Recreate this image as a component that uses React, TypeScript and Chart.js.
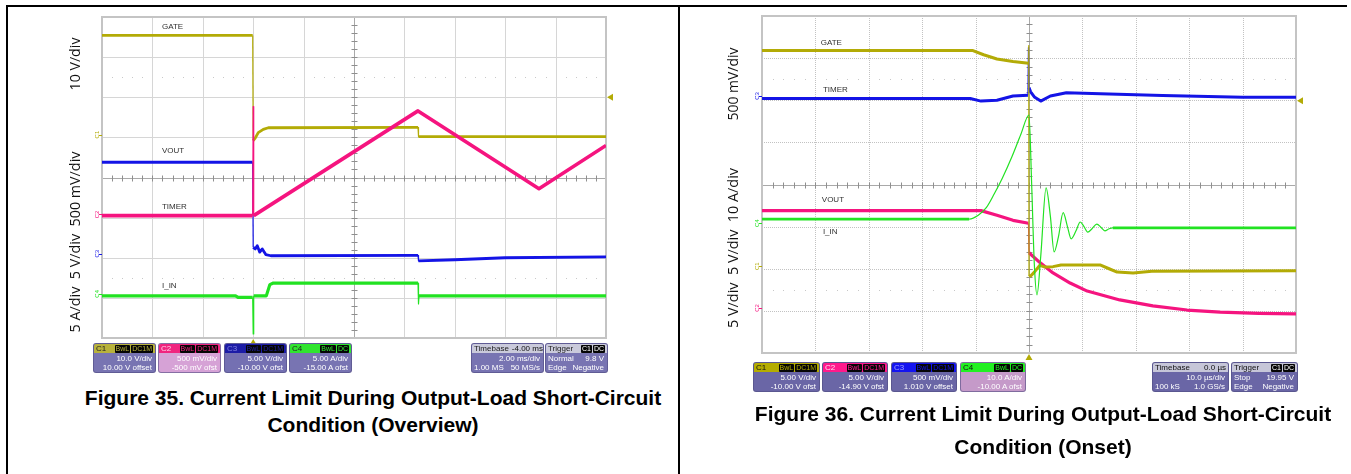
import React, { useEffect, useRef } from "react";
import { Chart, registerables } from "chart.js";

Chart.register(...registerables);

// ---------- colours ----------
const OLIVE = "#b3ab06";
const PINK = "#f5147f";
const BLUE = "#1414e6";
const GREEN = "#22e222";

// ---------- Figure 35 (overview): x and y in scope divisions (10 x 8) ----------
const F35_GATE_X = [0, 2.99, 3.0, 3.04, 3.1, 3.2, 3.3, 6.27, 6.28, 10];
const F35_GATE_Y = [7.54, 7.54, 4.92, 4.98, 5.12, 5.2, 5.24, 5.25, 5.02, 5.02];

const F35_VOUT_X = [0, 2.99, 3.0, 3.04, 3.08, 3.13, 3.18, 3.25, 3.35, 6.27, 6.28, 7.0, 8.0, 10];
const F35_VOUT_Y = [4.38, 4.38, 2.26, 2.22, 2.3, 2.14, 2.22, 2.08, 2.05, 2.06, 1.92, 1.95, 2.0, 2.02];

const F35_TIMER_X = [0, 2.99, 3.0, 3.01, 6.27, 8.67, 10];
const F35_TIMER_Y = [3.05, 3.05, 5.77, 3.05, 5.66, 3.72, 4.8];

const F35_IIN_X = [0, 2.65, 2.7, 2.99, 3.0, 3.01, 3.26, 3.33, 3.4, 6.27, 6.28, 6.29, 10];
const F35_IIN_Y = [1.05, 1.05, 1.01, 1.01, 0.1, 1.05, 1.05, 1.33, 1.37, 1.37, 0.85, 1.05, 1.05];

// ---------- Figure 36 (onset) ----------
const F36_GATE_X = [0, 3.95, 4.15, 4.4, 4.7, 4.99, 4.995, 5.0, 5.04, 5.1, 5.2, 5.3, 5.45, 5.6, 6.33, 6.5, 6.65, 6.95, 7.3, 10];
const F36_GATE_Y = [7.18, 7.18, 7.08, 6.98, 6.92, 6.88, 7.3, 1.82, 1.84, 1.92, 2.08, 2.04, 2.05, 2.09, 2.09, 2.0, 1.92, 1.9, 1.94, 1.95];

const F36_TIMER_X = [0, 3.9, 4.1, 4.4, 4.7, 4.98, 4.99, 5.0, 5.03, 5.1, 5.22, 5.4, 5.7, 6.5, 7.5, 9.0, 10];
const F36_TIMER_Y = [6.04, 6.04, 5.98, 6.0, 6.1, 6.12, 7.25, 6.3, 6.2, 6.08, 5.98, 6.1, 6.18, 6.15, 6.11, 6.07, 6.07];

const F36_VOUT_X = [0, 4.1, 4.4, 4.7, 4.99, 5.0, 5.21, 5.45, 5.77, 6.09, 6.7, 7.32, 7.96, 8.58, 9.3, 10];
const F36_VOUT_Y = [3.38, 3.38, 3.27, 3.15, 3.08, 2.38, 2.14, 1.9, 1.66, 1.47, 1.26, 1.12, 1.02, 0.97, 0.94, 0.93];

const F36_IIN_X = [0, 3.88, 4.05, 4.2, 4.35, 4.5, 4.68, 4.85, 5.0, 5.05, 5.1, 5.15, 5.22, 5.32, 5.4, 5.47, 5.55, 5.64, 5.72, 5.79, 5.88, 5.96, 6.03, 6.1, 6.18, 6.27, 6.35, 6.42, 6.5, 6.57, 10];
const F36_IIN_Y = [3.18, 3.18, 3.27, 3.45, 3.78, 4.15, 4.66, 5.2, 5.65, 4.0, 2.1, 1.38, 2.3, 3.92, 3.25, 2.4, 2.75, 3.33, 3.0, 2.71, 2.9, 3.11, 3.0, 2.87, 2.95, 3.06, 2.98, 2.9, 2.95, 2.97, 2.97];

// ---------- scope read-out boxes (text) ----------
const F35_CH_SCALE = ["10.0 V/div", "500 mV/div", "5.00 V/div", "5.00 A/div"];
const F35_CH_OFFSET = ["10.00 V offset", "-500 mV ofst", "-10.00 V ofst", "-15.00 A ofst"];
const F35_TIMEBASE = ["-4.00 ms", "2.00 ms/div", "1.00 MS", "50 MS/s"];
const F35_TRIGGER = ["Normal", "9.8 V", "Edge", "Negative"];

const F36_CH_SCALE = ["5.00 V/div", "5.00 V/div", "500 mV/div", "10.0 A/div"];
const F36_CH_OFFSET = ["-10.00 V ofst", "-14.90 V ofst", "1.010 V offset", "-10.00 A ofst"];
const F36_TIMEBASE = ["0.0 µs", "10.0 µs/div", "100 kS", "1.0 GS/s"];
const F36_TRIGGER = ["Stop", "19.95 V", "Edge", "Negative"];

type Trace = { label: string; xs: number[]; ys: number[]; color: string; width: number; thin?: [number, number]; smooth?: boolean };
type Note = { text: string; x: number; y: number };
type Marker = { text: string; y: number; color: string };
type Unit = { text: string; cx: number; cy: number; len: number };
type Geo = { left: number; top: number; w: number; h: number; pl: number; pr: number; pt: number; pb: number };

function makeScopePlugin(geo: Geo, notes: Note[], markers: Marker[], trigX: number, levelY: number, units: Unit[], dotted: boolean) {
  return {
    id: "scope",
    beforeDatasetsDraw(chart: any) {
      const { ctx, chartArea: a, scales } = chart;
      const x = scales.x;
      const y = scales.y;
      ctx.save();
      // regular grid
      ctx.strokeStyle = dotted ? "#c2c2c2" : "#d6d6d6";
      ctx.lineWidth = 1;
      ctx.setLineDash(dotted ? [1, 1] : []);
      for (let i = 1; i < 10; i++) {
        if (i === 5) continue;
        const px = Math.round(x.getPixelForValue(i)) + 0.5;
        ctx.beginPath();
        ctx.moveTo(px, a.top);
        ctx.lineTo(px, a.bottom);
        ctx.stroke();
      }
      for (let j = 1; j < 8; j++) {
        if (j === 4) continue;
        const py = Math.round(y.getPixelForValue(j)) + 0.5;
        ctx.beginPath();
        ctx.moveTo(a.left, py);
        ctx.lineTo(a.right, py);
        ctx.stroke();
      }
      ctx.setLineDash([]);
      // faint dotted half-division rows
      ctx.fillStyle = "#c8c8c8";
      for (const hy of [1.5, 6.5]) {
        const py = Math.round(y.getPixelForValue(hy));
        for (let k = 1; k < 50; k++) {
          if (k % 5 === 0) continue;
          ctx.fillRect(Math.round(x.getPixelForValue(k * 0.2)), py, 1, 1);
        }
      }
      // centre cross with minor ticks
      ctx.strokeStyle = "#a9a9a9";
      const cx = Math.round(x.getPixelForValue(5)) + 0.5;
      const cy = Math.round(y.getPixelForValue(4)) + 0.5;
      ctx.beginPath();
      ctx.moveTo(cx, a.top);
      ctx.lineTo(cx, a.bottom);
      ctx.moveTo(a.left, cy);
      ctx.lineTo(a.right, cy);
      ctx.stroke();
      ctx.strokeStyle = "#8f8f8f";
      ctx.beginPath();
      for (let k = 1; k < 50; k++) {
        const px = Math.round(x.getPixelForValue(k * 0.2)) + 0.5;
        ctx.moveTo(px, cy - 3);
        ctx.lineTo(px, cy + 3);
      }
      for (let k = 1; k < 40; k++) {
        const py = Math.round(y.getPixelForValue(k * 0.2)) + 0.5;
        ctx.moveTo(cx - 3, py);
        ctx.lineTo(cx + 3, py);
      }
      ctx.stroke();
      // border
      ctx.strokeStyle = "#c4c4c4";
      ctx.lineWidth = 2;
      ctx.strokeRect(a.left, a.top, a.right - a.left, a.bottom - a.top);
      ctx.restore();
    },
    afterDatasetsDraw(chart: any) {
      const { ctx, chartArea: a, scales } = chart;
      const x = scales.x;
      const y = scales.y;
      ctx.save();
      // trace names
      ctx.fillStyle = "#303030";
      ctx.font = '8px "Liberation Sans", Arial, sans-serif';
      ctx.textBaseline = "middle";
      ctx.textAlign = "left";
      for (const n of notes) ctx.fillText(n.text, x.getPixelForValue(n.x), y.getPixelForValue(n.y));
      // channel markers at left edge
      ctx.font = '6px "Liberation Sans", Arial, sans-serif';
      ctx.textAlign = "center";
      for (const m of markers) {
        const py = y.getPixelForValue(m.y);
        ctx.save();
        ctx.translate(a.left - 5, py);
        ctx.rotate(-Math.PI / 2);
        ctx.fillStyle = m.color;
        ctx.fillText(m.text, 0, 0);
        ctx.restore();
        ctx.fillStyle = m.color;
        ctx.fillRect(a.left - 3, Math.round(py), 3, 1);
      }
      // trigger position and level markers
      ctx.fillStyle = OLIVE;
      const tx = x.getPixelForValue(trigX);
      ctx.beginPath();
      ctx.moveTo(tx, a.bottom + 1);
      ctx.lineTo(tx - 3.5, a.bottom + 7);
      ctx.lineTo(tx + 3.5, a.bottom + 7);
      ctx.closePath();
      ctx.fill();
      const ly = y.getPixelForValue(levelY);
      ctx.beginPath();
      ctx.moveTo(a.right + 1, ly);
      ctx.lineTo(a.right + 7, ly - 3.5);
      ctx.lineTo(a.right + 7, ly + 3.5);
      ctx.closePath();
      ctx.fill();
      // vertical scale captions
      ctx.fillStyle = "#111";
      ctx.textAlign = "center";
      ctx.textBaseline = "middle";
      for (const u of units) {
        ctx.font = '14px "Open Sans", sans-serif';
        const w = ctx.measureText(u.text).width;
        const fs = (14 * u.len) / w;
        ctx.font = `${fs.toFixed(2)}px "Open Sans", sans-serif`;
        ctx.save();
        ctx.translate(u.cx - geo.left, u.cy - geo.top);
        ctx.rotate(-Math.PI / 2);
        ctx.fillText(u.text, 0, 0);
        ctx.restore();
      }
      ctx.restore();
    },
  };
}

function Scope(props: { geo: Geo; traces: Trace[]; notes: Note[]; markers: Marker[]; trigX: number; levelY: number; units: Unit[]; dotted: boolean }) {
  const ref = useRef<HTMLCanvasElement>(null);
  const { geo, traces, notes, markers, trigX, levelY, units, dotted } = props;
  useEffect(() => {
    const canvas = ref.current;
    if (!canvas) return;
    const datasets = traces.map((t) => ({
      label: t.label,
      data: t.xs.map((xv, i) => ({ x: xv, y: t.ys[i] })),
      borderColor: t.color,
      backgroundColor: t.color,
      borderWidth: t.width,
      pointRadius: 0,
      tension: 0,
      cubicInterpolationMode: t.smooth ? "monotone" : "default",
      borderJoinStyle: "round",
      fill: false,
      segment: {
        borderWidth: (c: any) => {
          const x0 = c.p0.parsed.x;
          const x1 = c.p1.parsed.x;
          if (Math.abs(x1 - x0) < 0.02) return 1.2;
          if (t.thin && x0 >= t.thin[0] && x1 <= t.thin[1]) return 1.2;
          return undefined;
        },
      },
    }));
    const chart = new Chart(canvas, {
      type: "line",
      data: { datasets } as any,
      options: {
        animation: false,
        responsive: false,
        maintainAspectRatio: false,
        events: [],
        layout: { padding: { left: geo.pl, right: geo.pr, top: geo.pt, bottom: geo.pb } },
        scales: {
          x: { type: "linear", min: 0, max: 10, display: false },
          y: { type: "linear", min: 0, max: 8, display: false },
        },
        plugins: { legend: { display: false }, tooltip: { enabled: false } },
      } as any,
      plugins: [makeScopePlugin(geo, notes, markers, trigX, levelY, units, dotted) as any],
    });
    return () => chart.destroy();
  }, []);
  return (
    <canvas
      ref={ref}
      width={geo.w}
      height={geo.h}
      style={{ position: "absolute", left: geo.left, top: geo.top, width: geo.w, height: geo.h }}
    />
  );
}

type BoxStyle = { x: number; w: number; head: string; body: string; nameColor: string; badgeColor: string };
type BoxText = { name: string; badges: string[]; headRight?: string; l1: [string, string]; l2: [string, string] };

function InfoBox({ s, t, top, h }: { s: BoxStyle; t: BoxText; top: number; h: number }) {
  return (
    <div
      style={{
        position: "absolute",
        left: s.x,
        top,
        width: s.w,
        height: h,
        background: s.body,
        borderRadius: 3,
        overflow: "hidden",
        font: '8px "Liberation Sans", Arial, sans-serif',
        color: "#fff",
        boxSizing: "border-box",
        border: "1px solid rgba(80,76,130,0.6)",
      }}
    >
      <div
        style={{
          height: 9,
          background: s.head,
          display: "flex",
          alignItems: "center",
          justifyContent: "space-between",
          padding: "0 2px",
          color: s.nameColor,
          lineHeight: "9px",
          whiteSpace: "nowrap",
        }}
      >
        <span>{t.name}</span>
        <span style={{ display: "flex", gap: 1, alignItems: "center" }}>
          {t.badges.map((b, i) => (
            <span key={i} style={{ background: "#050505", color: s.badgeColor, padding: "0 1px", borderRadius: 1, lineHeight: "8px", fontSize: 7 }}>
              {b}
            </span>
          ))}
          {t.headRight ? <span style={{ color: "#111", marginLeft: 3 }}>{t.headRight}</span> : null}
        </span>
      </div>
      {[t.l1, t.l2].map((l, i) => (
        <div key={i} style={{ display: "flex", justifyContent: "space-between", padding: "0 3px 0 2px", lineHeight: "9px", marginTop: i === 0 ? 1 : 0, whiteSpace: "nowrap" }}>
          <span>{l[0]}</span>
          <span>{l[1]}</span>
        </div>
      ))}
    </div>
  );
}

function makeChannelTexts(scale: string[], offset: string[]): BoxText[] {
  return ["C1", "C2", "C3", "C4"].map((n, i) => ({
    name: n,
    badges: i === 3 ? ["BwL", "DC"] : ["BwL", "DC1M"],
    l1: ["", scale[i]] as [string, string],
    l2: ["", offset[i]] as [string, string],
  }));
}

function makeTimeTexts(tb: string[], tr: string[]): BoxText[] {
  return [
    { name: "Timebase", badges: [], headRight: tb[0], l1: ["", tb[1]], l2: [tb[2], tb[3]] },
    { name: "Trigger", badges: ["C1", "DC"], l1: [tr[0], tr[1]], l2: [tr[2], tr[3]] },
  ];
}

const F35_BOX_STYLES: BoxStyle[] = [
  { x: 93, w: 63, head: "#b8b23c", body: "#7874b2", nameColor: "#222", badgeColor: "#b8b23c" },
  { x: 158, w: 63, head: "#f0247f", body: "#d6a2d6", nameColor: "#ffd0e8", badgeColor: "#f0247f" },
  { x: 224, w: 63, head: "#1c1ca6", body: "#7470b2", nameColor: "#8080e0", badgeColor: "#2020a0" },
  { x: 289, w: 63, head: "#30e430", body: "#7874b2", nameColor: "#222", badgeColor: "#30e430" },
  { x: 471, w: 73, head: "#cacadb", body: "#7874b2", nameColor: "#222", badgeColor: "#fff" },
  { x: 545, w: 63, head: "#cacadb", body: "#7874b2", nameColor: "#222", badgeColor: "#fff" },
];

const F36_BOX_STYLES: BoxStyle[] = [
  { x: 753, w: 67, head: "#b4ac00", body: "#6a66a6", nameColor: "#111", badgeColor: "#b4ac00" },
  { x: 822, w: 66, head: "#ff1a8c", body: "#6a66a6", nameColor: "#ffe0f0", badgeColor: "#ff1a8c" },
  { x: 891, w: 66, head: "#1414f0", body: "#6a66a6", nameColor: "#a0a0ff", badgeColor: "#1414f0" },
  { x: 960, w: 66, head: "#22f022", body: "#c59ac9", nameColor: "#111", badgeColor: "#22f022" },
  { x: 1152, w: 77, head: "#c6c6d8", body: "#6a66a6", nameColor: "#111", badgeColor: "#fff" },
  { x: 1231, w: 67, head: "#c6c6d8", body: "#6a66a6", nameColor: "#111", badgeColor: "#fff" },
];

const F35_TRACES: Trace[] = [
  { label: "TIMER", xs: F35_TIMER_X, ys: F35_TIMER_Y, color: PINK, width: 3.6 },
  { label: "I_IN", xs: F35_IIN_X, ys: F35_IIN_Y, color: GREEN, width: 3.2 },
  { label: "VOUT", xs: F35_VOUT_X, ys: F35_VOUT_Y, color: BLUE, width: 2.8 },
  { label: "GATE", xs: F35_GATE_X, ys: F35_GATE_Y, color: OLIVE, width: 2.8 },
];

const F36_TRACES: Trace[] = [
  { label: "I_IN", xs: F36_IIN_X, ys: F36_IIN_Y, color: GREEN, width: 2.8, thin: [3.8, 6.6], smooth: true },
  { label: "GATE", xs: F36_GATE_X, ys: F36_GATE_Y, color: OLIVE, width: 3 },
  { label: "VOUT", xs: F36_VOUT_X, ys: F36_VOUT_Y, color: PINK, width: 3.2 },
  { label: "TIMER", xs: F36_TIMER_X, ys: F36_TIMER_Y, color: BLUE, width: 3 },
];

const captionStyle: React.CSSProperties = {
  position: "absolute",
  textAlign: "center",
  font: 'bold 21px "Liberation Sans", Arial, sans-serif',
  color: "#000",
  whiteSpace: "nowrap",
};

export default function App() {
  const f35Texts = [...makeChannelTexts(F35_CH_SCALE, F35_CH_OFFSET), ...makeTimeTexts(F35_TIMEBASE, F35_TRIGGER)];
  const f36Texts = [...makeChannelTexts(F36_CH_SCALE, F36_CH_OFFSET), ...makeTimeTexts(F36_TIMEBASE, F36_TRIGGER)];
  return (
    <div style={{ position: "absolute", left: 0, top: 0, width: 1351, height: 474, background: "#fff", overflow: "hidden" }}>
      {/* frame */}
      <div style={{ position: "absolute", left: 6, top: 5, width: 1341, height: 2, background: "#000" }} />
      <div style={{ position: "absolute", left: 6, top: 5, width: 2, height: 469, background: "#000" }} />
      <div style={{ position: "absolute", left: 678, top: 5, width: 2, height: 469, background: "#000" }} />

      <Scope
        geo={{ left: 40, top: 8, w: 600, h: 340, pl: 62, pr: 34, pt: 9, pb: 10 }}
        traces={F35_TRACES}
        notes={[
          { text: "GATE", x: 1.19, y: 7.75 },
          { text: "VOUT", x: 1.19, y: 4.66 },
          { text: "TIMER", x: 1.19, y: 3.27 },
          { text: "I_IN", x: 1.19, y: 1.3 },
        ]}
        markers={[
          { text: "C1", y: 5.07, color: OLIVE },
          { text: "C2", y: 3.08, color: PINK },
          { text: "C3", y: 2.1, color: BLUE },
          { text: "C4", y: 1.1, color: GREEN },
        ]}
        trigX={3.0}
        levelY={6.0}
        units={[
          { text: "10 V/div", cx: 76, cy: 64, len: 53 },
          { text: "5 A/div  5 V/div  500 mV/div", cx: 76, cy: 242, len: 181 },
        ]}
        dotted={false}
      />
      {F35_BOX_STYLES.map((s, i) => (
        <InfoBox key={"a" + i} s={s} t={f35Texts[i]} top={343} h={30} />
      ))}
      <div style={{ ...captionStyle, left: 53, width: 640, top: 384, lineHeight: "27px" }}>
        Figure 35. Current Limit During Output-Load Short-Circuit
        <br />
        Condition (Overview)
      </div>

      <Scope
        geo={{ left: 700, top: 8, w: 640, h: 355, pl: 62, pr: 44, pt: 8, pb: 10 }}
        traces={F36_TRACES}
        notes={[
          { text: "GATE", x: 1.1, y: 7.37 },
          { text: "TIMER", x: 1.14, y: 6.25 },
          { text: "VOUT", x: 1.12, y: 3.63 },
          { text: "I_IN", x: 1.14, y: 2.87 },
        ]}
        markers={[
          { text: "C3", y: 6.1, color: BLUE },
          { text: "C4", y: 3.08, color: GREEN },
          { text: "C1", y: 2.06, color: OLIVE },
          { text: "C2", y: 1.07, color: PINK },
        ]}
        trigX={5.0}
        levelY={5.99}
        units={[
          { text: "500 mV/div", cx: 734, cy: 84, len: 73 },
          { text: "5 V/div  5 V/div  10 A/div", cx: 734, cy: 248, len: 160 },
        ]}
        dotted={true}
      />
      {F36_BOX_STYLES.map((s, i) => (
        <InfoBox key={"b" + i} s={s} t={f36Texts[i]} top={362} h={30} />
      ))}
      <div style={{ ...captionStyle, left: 723, width: 640, top: 397, lineHeight: "33px" }}>
        Figure 36. Current Limit During Output-Load Short-Circuit
        <br />
        Condition (Onset)
      </div>
    </div>
  );
}
